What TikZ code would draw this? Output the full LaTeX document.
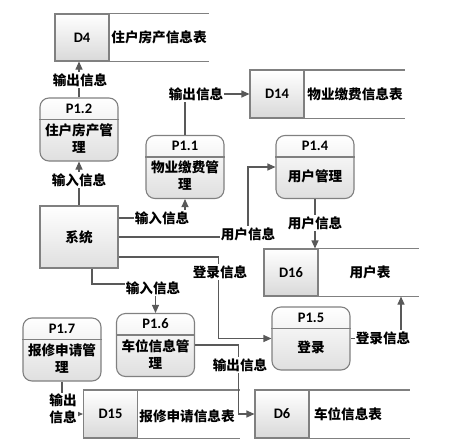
\documentclass[tikz,border=0pt]{standalone}
\usepackage{fontspec}
\setmainfont{Noto Sans CJK SC}
\newfontfamily\idfont{Carlito}
\usepackage{tikz}
\usetikzlibrary{arrows.meta, positioning, calc}

\tikzset{
  box/.style={draw=gray, line width=1.1pt, top color=white, bottom color=gray!25},
  proc/.style={box, rounded corners=9pt, minimum width=78pt, minimum height=63pt},
  sysbox/.style={box, minimum width=78pt, minimum height=62pt},
  idbox/.style={box, top color=white, bottom color=gray!30, minimum width=54pt, minimum height=47pt},
  lab/.style={fill=white, inner sep=1pt, font=\bfseries\fontsize{13.6}{17}\selectfont, align=center},
  txt/.style={font=\bfseries\fontsize{13.6}{17}\selectfont, align=center},
  idtxt/.style={font=\idfont\bfseries\fontsize{14.5}{17}\selectfont},
  arr/.style={draw=gray!70!black, line width=1.1pt, -{Triangle[length=8pt,width=7pt]}},
  ln/.style={draw=gray, line width=1.1pt}
}

\begin{document}
\begin{tikzpicture}[x=1pt, y=-1pt]
  \useasboundingbox (0,0) rectangle (458,445);

  % data stores
  \node[idbox] (d4) at (82,37.5) {};
  \node[idtxt] at (d4) {D4};
  \draw[ln] (d4.north west) -- ++(155,0);
  \draw[ln] (d4.south west) -- ++(155,0);
  \node[txt] (d4t) at (159,37) {住户房产信息表};

  \node[idbox] (d14) at (277,94) {};
  \node[idtxt] at (d14) {D14};
  \draw[ln] (d14.north west) -- ++(156,0);
  \draw[ln] (d14.south west) -- ++(156,0);
  \node[txt] (d14t) at (355,94) {物业缴费信息表};

  \node[idbox] (d16) at (291,272.5) {};
  \node[idtxt] at (d16) {D16};
  \draw[ln] (d16.north west) -- ++(156,0);
  \draw[ln] (d16.south west) -- ++(156,0);
  \node[txt] (d16t) at (370,272) {用户表};

  \node[idbox] (d15) at (110.5,414) {};
  \node[idtxt] at (d15) {D15};
  \draw[ln] (d15.north west) -- ++(157,0);
  \draw[ln] (d15.south west) -- ++(157,0);
  \node[txt] (d15t) at (187,416) {报修申请信息表};

  \node[idbox] (d6) at (282,414) {};
  \node[idtxt] at (d6) {D6};
  \draw[ln] (d6.north west) -- ++(156,0);
  \draw[ln] (d6.south west) -- ++(156,0);
  \node[txt] (d6t) at (348,414) {车位信息表};

  % processes
  \foreach \n/\x/\y/\t/\b in {p12/79/129.5/P1.2/{住户房产管\\理},
                             p11/185/167/P1.1/{物业缴费管\\理},
                             p14/315/167/P1.4/{用户管理},
                             p16/155.5/345/P1.6/{车位信息管\\理},
                             p17/62/349.5/P1.7/{报修申请管\\理},
                             p15/311/338.5/P1.5/{登录}} {
    \node[proc] (\n) at (\x,\y) {};
    \draw[ln] ($(\n.north west)+(0,22)$) -- ($(\n.north east)+(0,22)$);
    \node[idtxt] at ($(\n.north)+(0,11)$) {\t};
    \node[txt] at ($(\n.center)+(0,9)$) {\b};
  }

  \node[sysbox] (sys) at (79,237) {};
  \node[txt] at (sys) {系统};

  % flows
  \draw[arr] (p12.north) -- (p12.north |- d4.south);
  \node[lab] at (80,80) {输出信息};

  \draw[arr] (sys.north) -- (p12.south);
  \node[lab] at (79,180) {输入信息};

  \draw[arr] (p11.north) |- (d14.west);
  \node[lab] at (196,94) {输出信息};

  \draw[arr] ([yshift=19pt]sys.east) -| (p11.south);
  \node[lab] at (162,218) {输入信息};

  \coordinate (c1) at (248,237);
  \draw[arr] (sys.east) -- (c1) |- (p14.west);
  \node[lab] at (248,234) {用户信息};

  \draw[arr] (p14.south) -- (p14.south |- d16.north);
  \node[lab] at (315,223) {用户信息};

  \draw[arr] ([yshift=-20pt]sys.east) -| ($(p15.west)+(-53,0)$) -- (p15.west);
  \node[lab] at (220,272) {登录信息};

  \draw[arr] ([xshift=13pt]sys.south) |- ($(p16.north)+(0,-29)$) -- (p16.north);
  \node[lab] at (153,288) {输入信息};

  \draw[arr] (p16.east) -| ($(d6.west)+(-16,0)$) -- (d6.west);
  \node[lab] at (240,365) {输出信息};

  \draw[arr] (p17.south) |- (d15.west);
  \node[lab] at (63,409) {输出\\信息};

  \draw[arr] (p15.east) -| ($(d16.south)+(110,0)$);
  \node[lab] at (383,338) {登录信息};
\end{tikzpicture}
\end{document}
